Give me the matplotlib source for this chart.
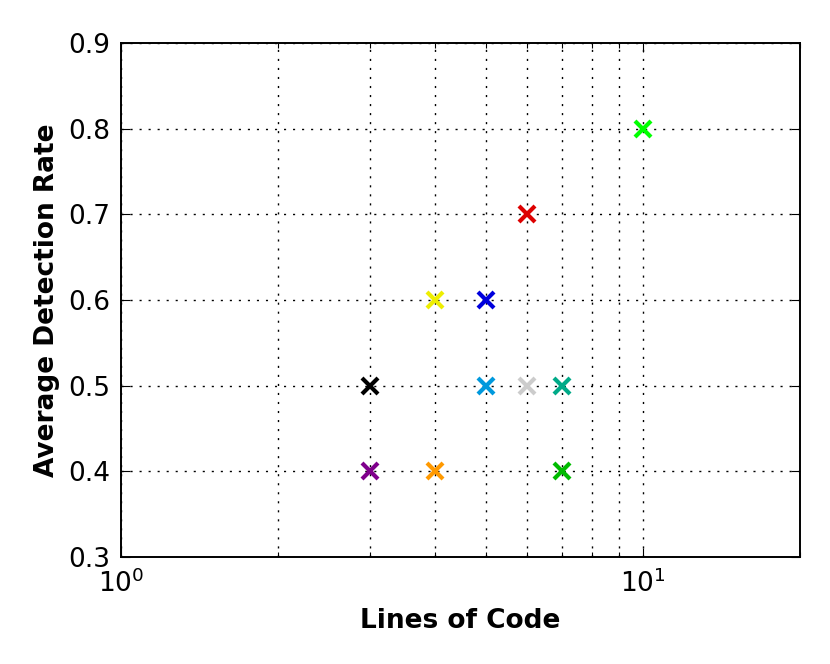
import matplotlib
matplotlib.use("Agg")
import matplotlib.pyplot as plt
from matplotlib.ticker import LogLocator, NullFormatter

lines_of_code = [3, 3, 4, 4, 5, 5, 6, 6, 7, 7, 10]
detection_rate = [0.5, 0.4, 0.6, 0.4, 0.6, 0.5, 0.7, 0.5, 0.5, 0.4, 0.8]
colors = ["#000000", "#7f008c", "#eeee00", "#ff9900", "#0000dd", "#0099dd",
          "#dd0000", "#cccccc", "#00aa88", "#00bb00", "#00ff00"]

plt.rcParams['font.family'] = ['DejaVu Sans']
plt.rcParams['mathtext.fontset'] = 'dejavusans'
fig = plt.figure(figsize=(8.3, 6.64), dpi=100)
ax = fig.add_axes([0.146, 0.161, 0.818, 0.774])

for x, y, c in zip(lines_of_code, detection_rate, colors):
    ax.plot(x, y, marker='x', color=c, markersize=12, mew=3, linestyle='none', zorder=3)

ax.set_xscale('log')
ax.set_xlim(1, 20)
ax.set_ylim(0.3, 0.9)
ax.set_yticks([0.3, 0.4, 0.5, 0.6, 0.7, 0.8, 0.9])
ax.xaxis.set_minor_locator(LogLocator(base=10, subs=range(2, 10)))
ax.xaxis.set_minor_formatter(NullFormatter())
dot = (0, (1.5, 5))
ax.grid(True, which='both', axis='x', color='black', linestyle=dot, linewidth=1)
ax.grid(True, which='major', axis='y', color='black', linestyle=dot, linewidth=1)
ax.tick_params(which='both', direction='in', labelsize=19, top=True, right=True, width=0.8)
ax.tick_params(which='major', length=6.5)
ax.tick_params(which='minor', length=3.5)
ax.tick_params(axis='x', which='both', pad=9)
ax.tick_params(axis='y', which='both', pad=8)
for s in ax.spines.values():
    s.set_linewidth(1.4)

ax.set_xlabel('Lines of Code', fontsize=19, fontweight='bold', labelpad=7)
ax.set_ylabel('Average Detection Rate', fontsize=19, fontweight='bold', labelpad=6)

fig.savefig('out.png', dpi=100)
